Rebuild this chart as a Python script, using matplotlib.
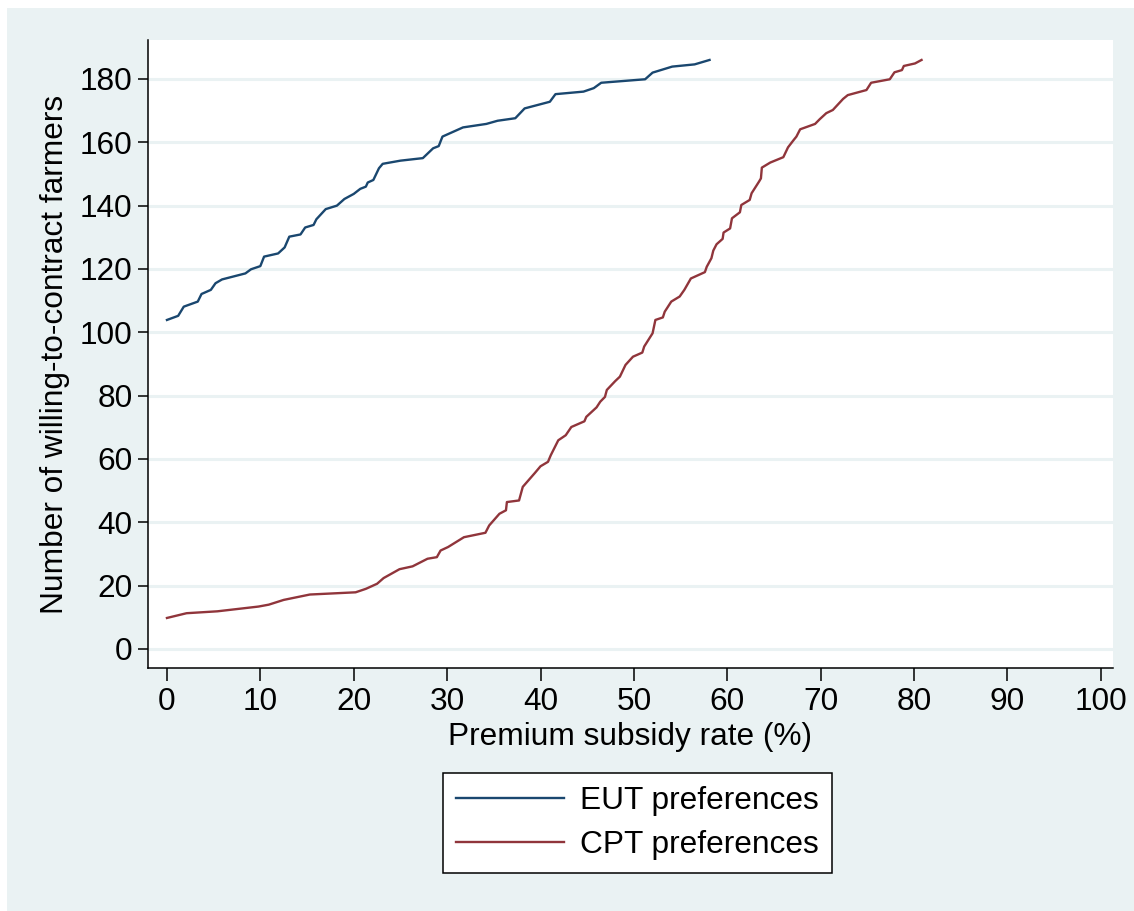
import matplotlib
matplotlib.use("Agg")
import matplotlib.pyplot as plt
from matplotlib.patches import Rectangle

plt.rcParams['font.family'] = ['Liberation Sans', 'DejaVu Sans']

# EUT preferences curve (subsidy rate %, number of farmers)
eut_x = [0.0, 1.2, 1.8, 3.3, 3.7, 4.7, 5.2, 5.9, 8.4, 9.0, 10.0, 10.4, 11.9, 12.6,
         13.1, 14.3, 14.8, 15.7, 16.0, 17.0, 18.2, 19.0, 20.0, 20.7, 21.3, 21.5,
         22.1, 22.7, 23.1, 25.0, 27.4, 28.5, 29.1, 29.5, 31.7, 34.2, 35.4, 37.3,
         38.3, 41.0, 41.6, 44.6, 45.7, 46.5, 51.2, 52.0, 54.1, 56.5, 58.1]
eut_y = [103.9, 105.2, 108.1, 109.7, 112.1, 113.4, 115.5, 116.7, 118.6, 119.9,
         120.9, 123.9, 124.9, 126.8, 130.2, 130.9, 133.1, 133.9, 135.7, 138.9,
         140.0, 142.1, 143.7, 145.3, 146.0, 147.3, 148.1, 151.8, 153.2, 154.2,
         155.0, 158.1, 158.8, 161.8, 164.7, 165.8, 166.8, 167.6, 170.7, 172.8,
         175.2, 176.0, 177.1, 178.8, 179.9, 182.0, 183.9, 184.6, 186.0]

# CPT preferences curve
cpt_x = [0.0, 2.1, 5.4, 9.8, 10.9, 12.5, 15.3, 20.2, 21.3, 22.5, 23.2, 24.9, 26.3,
         27.9, 28.9, 29.3, 30.1, 31.8, 34.1, 34.5, 35.6, 36.3, 36.4, 37.7, 38.1,
         39.4, 40.0, 40.8, 41.1, 41.9, 42.7, 43.3, 44.7, 44.9, 46.0, 46.4, 46.9,
         47.1, 48.0, 48.5, 49.1, 49.9, 50.9, 51.1, 52.0, 52.3, 53.1, 53.3, 54.0,
         54.9, 55.4, 56.1, 57.6, 57.8, 58.3, 58.5, 58.85, 59.5, 59.6, 60.3, 60.5,
         61.35, 61.5, 62.4, 62.6, 63.4, 63.6, 63.7, 64.6, 66.0, 66.5, 67.1, 67.4,
         67.8, 69.4, 69.9, 70.6, 71.3, 72.4, 72.9, 74.9, 75.4, 77.4, 77.9, 78.7,
         78.9, 80.1, 80.8]
cpt_y = [9.8, 11.3, 11.9, 13.4, 14.0, 15.5, 17.2, 17.9, 19.0, 20.6, 22.4, 25.2,
         26.1, 28.5, 29.0, 31.1, 32.2, 35.3, 36.7, 39.0, 42.7, 43.8, 46.4, 46.9,
         51.2, 55.6, 57.7, 59.1, 61.2, 65.9, 67.5, 70.1, 71.9, 73.3, 76.3, 78.1,
         79.6, 81.8, 84.6, 86.0, 89.7, 92.3, 93.6, 95.5, 99.7, 103.9, 104.7, 106.5,
         109.7, 111.3, 113.4, 117.0, 119.0, 120.7, 123.4, 125.8, 127.8, 129.5,
         131.5, 132.8, 136.0, 137.9, 140.2, 141.8, 143.9, 147.6, 148.6, 152.0,
         153.6, 155.3, 158.4, 160.7, 161.8, 164.1, 165.8, 167.3, 169.2, 170.2,
         173.7, 174.9, 176.5, 178.8, 179.9, 182.1, 182.8, 184.1, 184.9, 186.0]

x_ticks = list(range(0, 101, 10))
y_ticks = list(range(0, 181, 20))
series_labels = ["EUT preferences", "CPT preferences"]
x_label = "Premium subsidy rate (%)"
y_label = "Number of willing-to-contract farmers"

BG = "#EAF2F3"
NAVY = "#1A476F"
MAROON = "#90353B"
FS = 22.8

fig = plt.figure(figsize=(11.34, 9.11), dpi=100, facecolor="white")
fig.patches.append(Rectangle((7 / 1134, 0), 1 - 7 / 1134, 1 - 8 / 911,
                             transform=fig.transFigure, facecolor=BG,
                             edgecolor="none", zorder=-10))

ax = fig.add_axes([148 / 1134, 1 - 668 / 911, (1113 - 148) / 1134, (668 - 40) / 911])
ax.set_facecolor("white")

ax.plot(eut_x, eut_y, color=NAVY, lw=1.7, label=series_labels[0], zorder=3)
ax.plot(cpt_x, cpt_y, color=MAROON, lw=1.7, label=series_labels[1], zorder=3)

ax.set_xlim(-2.03, 101.3)
ax.set_ylim(-6.0, 192.3)
ax.set_xticks(x_ticks)
ax.set_yticks(y_ticks)
ax.tick_params(axis='x', length=9, width=1.1, labelsize=FS, pad=5, color='black')
ax.tick_params(axis='y', length=7, width=1.1, labelsize=FS, pad=4, color='black')

for s in ['top', 'right']:
    ax.spines[s].set_visible(False)
for s in ['left', 'bottom']:
    ax.spines[s].set_linewidth(1.1)
    ax.spines[s].set_color('black')

ax.yaxis.grid(True, color=BG, lw=2.2, zorder=0)
ax.set_axisbelow(True)

ax.set_xlabel(x_label, fontsize=FS, labelpad=3)
ax.set_ylabel(y_label, fontsize=FS, labelpad=7)

leg = fig.legend(loc='center', bbox_to_anchor=(637.5 / 1134, 1 - 823 / 911),
                 fontsize=FS, frameon=True, fancybox=False, edgecolor='black',
                 facecolor='white', framealpha=1, handlelength=3.4,
                 handletextpad=0.5, labelspacing=0.45, borderpad=0.42,
                 borderaxespad=0)
leg.get_frame().set_linewidth(1.1)

fig.savefig("out.png", dpi=100, facecolor=fig.get_facecolor())
